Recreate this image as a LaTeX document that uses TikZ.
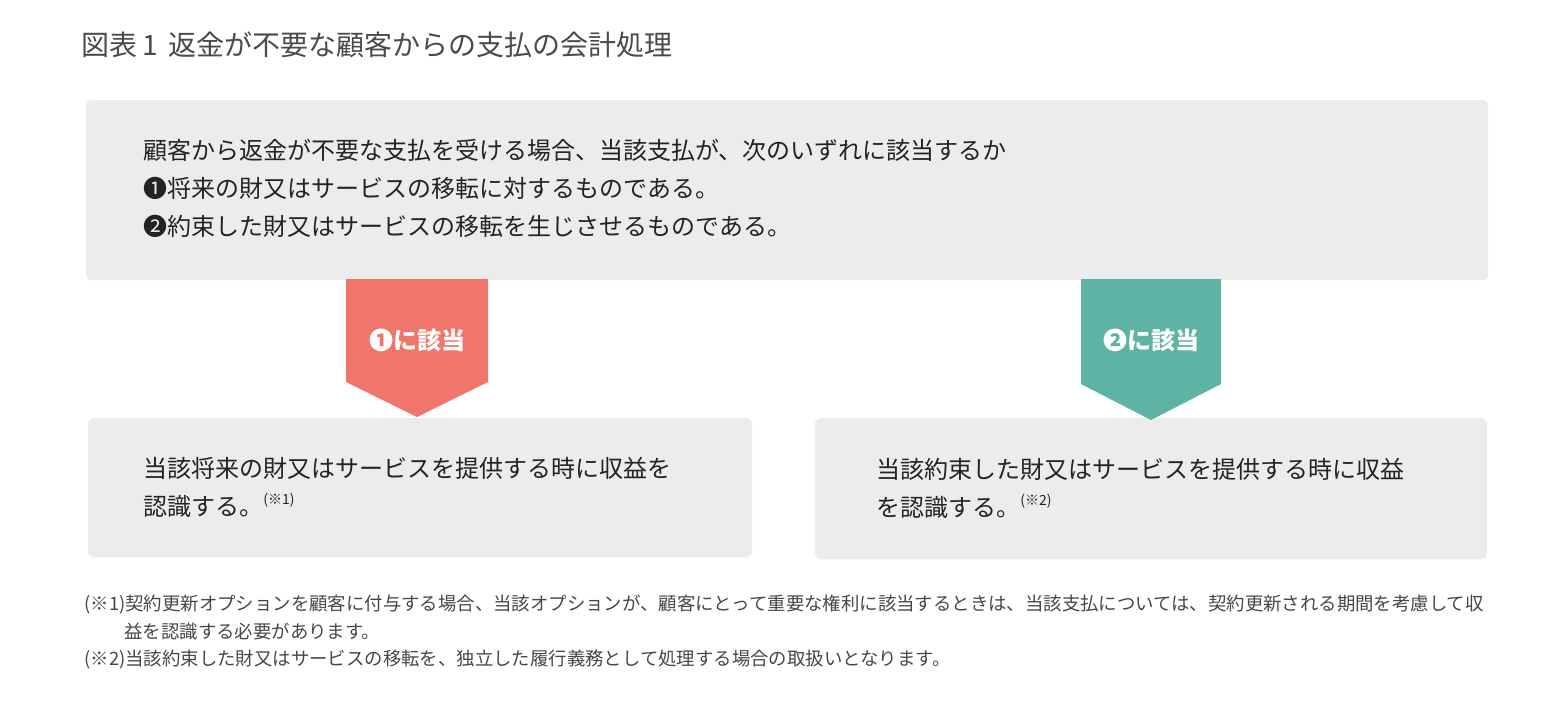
\documentclass[tikz,border=0pt]{standalone}
\usepackage{fontspec}
\setmainfont{Noto Sans CJK JP}
\definecolor{boxgray}{HTML}{ECECEC}
\definecolor{salmon}{HTML}{F0756A}
\definecolor{teal2}{HTML}{5FB3A5}
\definecolor{titlegray}{HTML}{4A4A4A}
\definecolor{bodyblack}{HTML}{232323}
\definecolor{notegray}{HTML}{474747}
\begin{document}
\begin{tikzpicture}[x=0.5pt,y=-0.5pt,
  panel/.style={fill=boxgray,draw=none,rounded corners=3pt},
  bodytext/.style={inner sep=0pt,align=left,anchor=west,text=bodyblack,font=\fontsize{12pt}{19pt}\selectfont},
  notetext/.style={inner sep=0pt,anchor=west,text=notegray,font=\fontsize{9.2pt}{13pt}\selectfont},
  pointer/.style={draw=none},
  pointerlabel/.style={inner sep=0pt,text=white,font=\fontsize{12pt}{14pt}\selectfont\bfseries}
]
\useasboundingbox (0,0) rectangle (1550,702);
\fill[white] (0,0) rectangle (1550,702);

% title
\node[inner sep=0pt,anchor=west,text=titlegray,font=\fontsize{14pt}{16pt}\selectfont] (title) at (81,45) {図表\,1\, 返金が不要な顧客からの支払の会計処理};

% panels
\path[panel] (86,100) rectangle (1488,280);
\path[panel] (88,418) rectangle (752,557);
\path[panel] (815,418) rectangle (1487,559);

% top text
\node[bodytext] (question) at (143,188) {顧客から返金が不要な支払を受ける場合、当該支払が、次のいずれに該当するか\\❶将来の財又はサービスの移転に対するものである。\\❷約束した財又はサービスの移転を生じさせるものである。};

% pointers
\fill[salmon,pointer] (346,279) -- (488,279) -- (488,382) -- (417,417) -- (346,382) -- cycle;
\fill[teal2,pointer] (1081,279) -- (1221,279) -- (1221,384) -- (1151,420) -- (1081,384) -- cycle;
\node[pointerlabel] (lab1) at (417,340) {❶に該当};
\node[pointerlabel] (lab2) at (1151,340) {❷に該当};

% bottom texts
\node[bodytext] (res1) at (143,487) {当該将来の財又はサービスを提供する時に収益を\\認識する。\raisebox{0.8ex}{\fontsize{7pt}{8pt}\selectfont (※1)}};
\node[bodytext] (res2) at (876,488) {当該約束した財又はサービスを提供する時に収益\\を認識する。\raisebox{0.8ex}{\fontsize{7pt}{8pt}\selectfont (※2)}};

% notes
\node[notetext] (note1) at (84,605) {(※1)契約更新オプションを顧客に付与する場合、当該オプションが、顧客にとって重要な権利に該当するときは、当該支払については、契約更新される期間を考慮して収};
\node[notetext] (note1b) at (124,631) {益を認識する必要があります。};
\node[notetext] (note2) at (84,660) {(※2)当該約束した財又はサービスの移転を、独立した履行義務として処理する場合の取扱いとなります。};
\end{tikzpicture}
\end{document}
